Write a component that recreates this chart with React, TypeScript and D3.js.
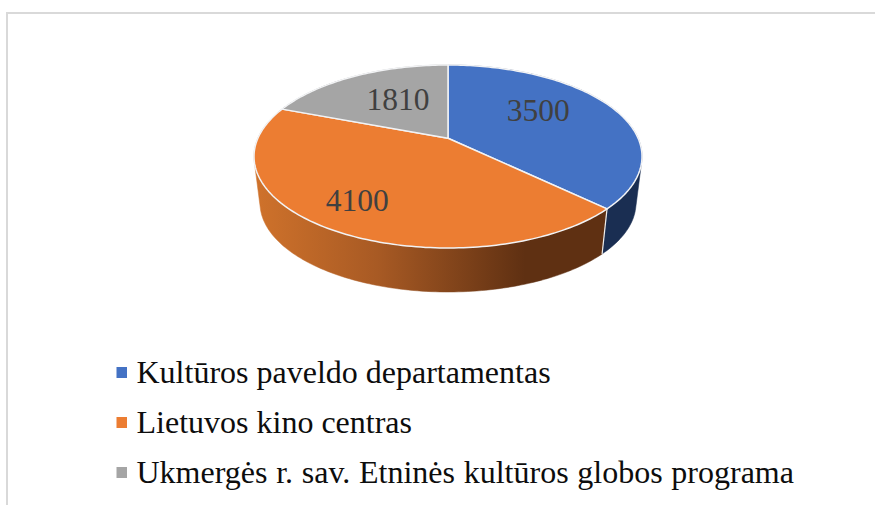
import React from 'react';
import * as d3 from 'd3';

const categories = [
  'Kultūros paveldo departamentas',
  'Lietuvos kino centras',
  'Ukmergės r. sav. Etninės kultūros globos programa',
];
const values = [3500, 4100, 1810];
const colors = ['#4472c4', '#ec7d32', '#a5a5a5'];
const wallFills = ['#1a2e52', 'url(#orangeWall)', '#63635f'];
// label shift from the slice's mid radius, in px
const labelNudges = [[-10, -8], [-23, 12], [9, 0]];

const width = 875;
const height = 505;

// perspective tilt: apex of the pie sits above the centre of the ellipse
const tilt = -0.2;
const topFace = { cx: 448, cy: 156.5, rx: 194, ry: 91.5 };
const bottomFace = { cx: 448, cy: 203, rx: 188, ry: 89 };

type Face = typeof topFace;

const project = (face: Face, angle: number, r = 1): [number, number] => {
  const u = r * Math.sin(angle);
  const v = -r * Math.cos(angle);
  const w = 1 + tilt * v;
  return [
    face.cx + (face.rx * u * Math.sqrt(1 - tilt * tilt)) / w,
    face.cy + (face.ry * (v + tilt)) / w,
  ];
};

const arcAngles = (a0: number, a1: number) => {
  const steps = Math.max(2, Math.ceil((a1 - a0) / 0.02));
  return d3.range(steps + 1).map((i) => a0 + ((a1 - a0) * i) / steps);
};

const line = d3.line();

const App = () => {
  const slices = d3.pie<number>().sort(null)(values);

  const topPath = (a0: number, a1: number) =>
    line([project(topFace, 0, 0), ...arcAngles(a0, a1).map((a) => project(topFace, a))]) + 'Z';

  // hull keeps the tangent side of the wall; the extra area ends up under the top face
  const wallPath = (a0: number, a1: number) => {
    const angles = arcAngles(a0, a1);
    const hull = d3.polygonHull([
      ...angles.map((a) => project(topFace, a)),
      ...angles.map((a) => project(bottomFace, a)),
    ]);
    return line(hull as [number, number][]) + 'Z';
  };

  const seamTop = project(topFace, slices[0].endAngle);
  const seamBottom = project(bottomFace, slices[0].endAngle);

  return (
    <svg
      width={width}
      height={height}
      style={{ position: 'absolute', left: 0, top: 0, background: '#fff' }}
      fontFamily="'Liberation Serif', serif"
    >
      <defs>
        <linearGradient id="orangeWall" gradientUnits="userSpaceOnUse" x1="256" y1="0" x2="525" y2="0">
          <stop offset="0" stopColor="#cf722b" />
          <stop offset="0.45" stopColor="#a85a24" />
          <stop offset="1" stopColor="#5f3012" />
        </linearGradient>
      </defs>

      <path d="M7 505V13H875" fill="none" stroke="#d9d9d9" strokeWidth={2} />

      {slices.map((s, i) => (
        <path key={i} d={wallPath(s.startAngle, s.endAngle)} fill={wallFills[i]} stroke={wallFills[i]} strokeWidth={0.5} />
      ))}
      <line x1={seamTop[0]} y1={seamTop[1]} x2={seamBottom[0]} y2={seamBottom[1]} stroke="#eeeeee" strokeWidth={1.2} />
      {slices.map((s, i) => (
        <path key={i} d={topPath(s.startAngle, s.endAngle)} fill={colors[i]} stroke="#f2f3f5" strokeWidth={1.5} strokeLinejoin="round" />
      ))}

      {slices.map((s, i) => {
        const [x, y] = project(topFace, (s.startAngle + s.endAngle) / 2, 0.6);
        return (
          <text
            key={i}
            x={x + labelNudges[i][0]}
            y={y + labelNudges[i][1] + 11}
            textAnchor="middle"
            fontSize={31.5}
            fill="#404040"
          >
            {d3.format('d')(values[i])}
          </text>
        );
      })}

      {categories.map((c, i) => (
        <g key={c} transform={`translate(0,${d3.scaleLinear([0, 2], [383, 483])(i)})`}>
          <rect x={116.5} y={-16} width={10.5} height={11} fill={colors[i]} />
          <text x={136.5} y={0} fontSize={32} fill="#0d0d0d" wordSpacing={i === 2 ? 0.7 : 0}>
            {c}
          </text>
        </g>
      ))}
    </svg>
  );
};

export default App;
